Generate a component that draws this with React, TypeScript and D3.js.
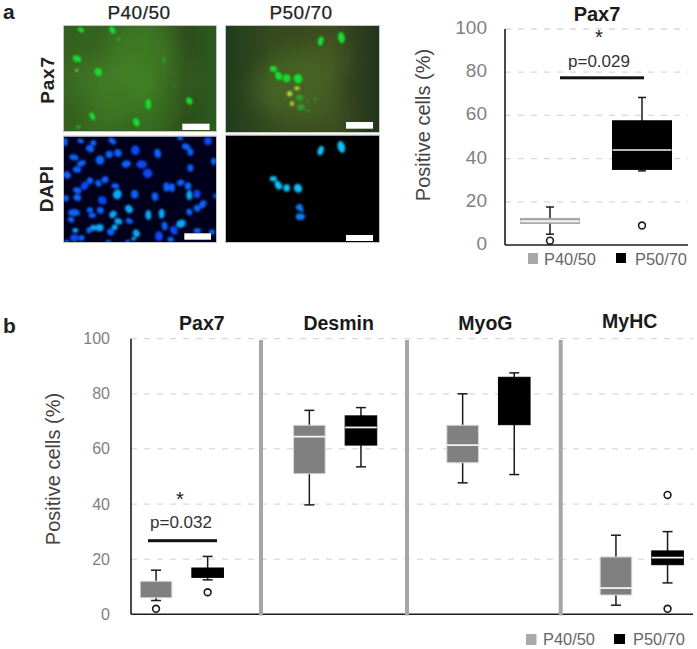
import React from "react";
import * as d3 from "d3";

const W = 697, H = 649;
const FONT = "'Liberation Sans', Arial, sans-serif";

// ---------- data ----------
type Box = { lo: number; q1: number; med: number | null; q3: number; hi: number; out: number[] };
const groupsA = ["P40/50", "P50/70"];
const boxesA: Box[] = [
  { lo: 5, q1: 10, med: 11, q3: 12.3, hi: 17.6, out: [2] },
  { lo: 34.3, q1: 35, med: 44, q3: 57.5, hi: 68.3, out: [9] },
];
const markersB = ["Pax7", "Desmin", "MyoG", "MyHC"];
const p4050B: Box[] = [
  { lo: 5, q1: 6, med: null, q3: 12, hi: 16, out: [2] },
  { lo: 39.7, q1: 51, med: 64.5, q3: 68.6, hi: 74, out: [] },
  { lo: 47.7, q1: 55, med: 61.4, q3: 68.6, hi: 80, out: [] },
  { lo: 3.3, q1: 7, med: 9.5, q3: 20.8, hi: 28.7, out: [] },
];
const p5070B: Box[] = [
  { lo: 12.5, q1: 13.4, med: null, q3: 16.8, hi: 21, out: [8] },
  { lo: 53.5, q1: 61.4, med: 67.8, q3: 72, hi: 75, out: [] },
  { lo: 50.7, q1: 68.8, med: null, q3: 86, hi: 87.6, out: [] },
  { lo: 11.4, q1: 18, med: 20.6, q3: 23, hi: 30, out: [43.3, 2] },
];
const ticks = [0, 20, 40, 60, 80, 100];

// micrograph nuclei: x, y, rx, ry, rotation, tone (read at 3x from the micrographs)
type N = [number, number, number, number, number, number?];
const dapiLeft: N[] = [
  [16,30,7,13,0],[62,27,10,7,20],[100,33,9,9,0],[90,50,13,10,30],[157,27,13,8,40],[42,76,14,9,10],[120,84,13,14,-30],
  [148,67,11,11,0],[174,63,11,12,-30],[64,94,14,9,-20],[51,113,13,9,10],[21,129,11,12,-40],[226,55,13,15,0,0],[293,64,10,14,-10],
  [199,96,14,11,-20],[245,97,16,12,0,0],[263,124,14,14,30,0],[361,18,9,7,0],[378,44,13,9,20],[391,60,9,11,0],[444,27,12,12,0,0],
  [461,88,8,11,0],[391,108,9,11,0],[90,146,10,9,40],[115,154,9,11,-20],[135,143,11,10,-30],[74,161,11,13,30,0],[52,175,13,9,20],
  [52,197,12,10,20],[18,199,8,10,0],[166,162,12,8,10],[172,187,13,15,20,1],[127,205,14,12,30,0],[224,187,11,13,0],[285,194,10,13,-10],
  [319,165,9,14,0],[336,167,9,13,0],[362,152,11,9,-30],[384,162,10,11,0],[388,190,9,15,0,1],[411,186,10,13,0,0],[428,217,10,13,30],
  [411,229,9,11,-30],[388,240,9,10,-30],[465,192,5,8,0],[207,231,11,13,-30,1],[265,249,9,15,0,1],[305,245,9,15,0,1],[42,242,18,11,0],
  [90,234,10,8,0],[97,250,11,8,0],[121,235,11,10,30],[159,247,10,12,40,1],[33,263,10,8,30],[175,268,12,9,20,1],[208,267,11,8,20],
  [46,295,9,7,0,1],[87,295,8,10,0],[100,287,9,9,0,1],[119,287,12,11,0,1],[152,300,10,11,-40],[164,286,9,9,0,1],[43,318,13,11,0,0],
  [65,318,9,9,0],[229,304,10,12,-30,1],[297,313,12,15,0,0],[314,282,9,13,-10],[342,295,11,14,-30,0],[363,275,15,12,-20,1],[332,322,10,8,0],
  [412,296,11,8,0],[456,300,9,8,0],[20,328,8,5,0],[145,328,8,5,0],[203,328,8,5,0],[221,320,7,6,0,1],
];
const dapiRight: N[] = [
  [296,56,9,15,20,1],[358,45,11,18,-15,1],[154,140,11,8,0,1],[169,160,10,14,-30,1],[194,168,10,11,0,1],[228,169,12,14,-30,1],
  [232,226,10,10,0],[240,235,5,6,0],[235,254,14,10,0],
];
const pax7Left: N[] = [
  [63,24,9,7,30],[157,24,8,12,-30],[51,110,13,9,20],[115,150,11,12,-20],[265,247,8,15,-5],[388,237,9,11,-30],[97,283,7,13,-25],[229,301,9,13,-20],
  [50,145,4,4,0,1],[175,52,6,6,0,2],[312,115,4,10,-10,2],[345,193,3,3,0,2],[55,315,8,5,0,2],
];
const pax7Right: N[] = [
  [296,57,8,14,15],[358,47,10,17,-10],[154,141,11,9,10],[170,162,10,13,-30],[194,169,11,12,0],[228,170,13,14,-30],
  [225,199,8,6,0,1],[203,215,8,8,0,1],[233,227,11,9,0,2],[210,245,6,7,0,1],[237,256,11,9,0,2],[279,231,5,4,0,2],[257,265,4,4,0,2],[258,238,4,3,0,2],
];
// soft background patches: x, y, radius, opacity
const hazeLeft: [number, number, number, number][] = [
  [250,100,110,.35],[190,200,90,.3],[80,170,70,.25],[300,250,70,.2],[130,280,60,.2],[380,170,50,.15],
];
const hazeRight: [number, number, number, number][] = [
  [220,190,110,.35],[320,110,70,.18],[120,210,60,.12],[330,270,60,.12],
];

// ---------- scales ----------
const yA = d3.scaleLinear().domain([0, 100]).range([245, 29]);
const xA = d3.scaleBand().domain(groupsA).range([504, 688]);
const yB = d3.scaleLinear().domain([0, 100]).range([614.3, 338.7]);
const xB = d3.scaleBand().domain(markersB).range([105.2, 718.4]);
const dodge = 25.8;
const separatorsB = [261, 407, 560.7];

const BoxMark = ({ b, cx, hw, y, fill, edge, capW, medW }: { b: Box; cx: number; hw: number; y: d3.ScaleLinear<number, number>; fill: string; edge: string; capW: number; medW: number }) => (
  <g>
    <line x1={cx} x2={cx} y1={y(b.hi)} y2={y(b.lo)} stroke="#1a1a1a" strokeWidth={1.5} />
    <line x1={cx - capW} x2={cx + capW} y1={y(b.hi)} y2={y(b.hi)} stroke="#1a1a1a" strokeWidth={1.5} />
    <line x1={cx - capW} x2={cx + capW} y1={y(b.lo)} y2={y(b.lo)} stroke="#1a1a1a" strokeWidth={1.5} />
    <rect x={cx - hw} width={2 * hw} y={y(b.q3)} height={y(b.q1) - y(b.q3)} fill={fill} stroke={edge} strokeWidth={1} />
    {b.med !== null && <line x1={cx - hw} x2={cx + hw} y1={y(b.med)} y2={y(b.med)} stroke="#f4f4f4" strokeWidth={medW} />}
    {b.out.map((o, i) => <circle key={i} cx={cx} cy={y(o)} r={3.4} fill="#fff" stroke="#1a1a1a" strokeWidth={1.6} />)}
  </g>
);

const Nuclei = ({ data, ox, oy, fills }: { data: N[]; ox: number; oy: number; fills: string[] }) => {
  const sx = d3.scaleLinear().domain([0, 3]).range([ox, ox + 1]);
  const sy = d3.scaleLinear().domain([0, 3]).range([oy, oy + 1]);
  return (
    <g>
      {data.map(([x, y, rx, ry, rot, tone], i) => (
        <ellipse key={i} cx={sx(x)} cy={sy(y)} rx={rx / 3} ry={ry / 3} fill={fills[tone ?? (fills.length > 3 ? 3 : 0)]}
          transform={`rotate(${rot} ${sx(x)} ${sy(y)})`} />
      ))}
    </g>
  );
};

const Micro = ({ id, x, y, w, h, bg, bar, children }: { id: string; x: number; y: number; w: number; h: number; bg: string; bar: [number, number, number, number]; children: React.ReactNode }) => (
  <g>
    <clipPath id={id}><rect x={x} y={y} width={w} height={h} /></clipPath>
    <rect x={x} y={y} width={w} height={h} fill={bg} />
    <g clipPath={`url(#${id})`}>{children}</g>
    <rect x={x - .5} y={y - .5} width={w + 1} height={h + 1} fill="none" stroke="#c4c4c4" strokeWidth={1} />
    <rect x={bar[0]} y={bar[1]} width={bar[2]} height={bar[3]} fill="#fff" />
  </g>
);

export default function App() {
  const axisColor = "#1c1c1c";
  const grid = "#d9d9d9";
  const dapiFills = ["#0b46f5", "#08a6f8", "#08a6f8", "#0a62fa"];
  const dapiFillsR = ["#0a78f5", "#0cc0fb", "#0cc0fb"];
  const greenFills = ["#14e02e", "#b8d83a", "#2fa02e"];
  return (
    <svg width={W} height={H} style={{ position: "absolute", left: 0, top: 0, background: "#fff" }} fontFamily={FONT}>
      <defs>
        <filter id="blur1" x="-30%" y="-30%" width="160%" height="160%"><feGaussianBlur stdDeviation="0.9" /></filter>
        <filter id="blur10" x="-60%" y="-60%" width="220%" height="220%"><feGaussianBlur stdDeviation="10" /></filter>
        <linearGradient id="bgL" x1="0" x2="1" y1="0" y2="0">
          <stop offset="0" stopColor="#35601f" /><stop offset=".55" stopColor="#34671f" /><stop offset=".8" stopColor="#2d4c1c" /><stop offset="1" stopColor="#2b5a1f" />
        </linearGradient>
        <linearGradient id="bgR" x1="0" x2="1" y1="0" y2="0">
          <stop offset="0" stopColor="#1f3d1c" /><stop offset=".3" stopColor="#364a1f" /><stop offset=".7" stopColor="#3c4a20" /><stop offset="1" stopColor="#20351c" />
        </linearGradient>
      </defs>

      {/* panel labels */}
      <text x={3} y={19} fontSize={21} fontWeight={700} fill="#222">a</text>
      <text x={3} y={333} fontSize={21} fontWeight={700} fill="#222">b</text>
      <text x={139} y={19} textAnchor="middle" fontSize={19} fill="#222" stroke="#222" strokeWidth={.25} letterSpacing={.5}>P40/50</text>
      <text x={301} y={19} textAnchor="middle" fontSize={19} fill="#222" stroke="#222" strokeWidth={.25} letterSpacing={.5}>P50/70</text>
      <text transform="translate(54,80) rotate(-90)" textAnchor="middle" fontSize={19} fontWeight={700} fill="#222" letterSpacing={.8}>Pax7</text>
      <text transform="translate(53,189) rotate(-90)" textAnchor="middle" fontSize={19} fontWeight={700} fill="#222" letterSpacing={.3}>DAPI</text>

      {/* micrographs */}
      <Micro id="m1" x={64} y={26} w={152} h={105} bg="url(#bgL)" bar={[182.3, 123.7, 27.3, 6.3]}>
        <g filter="url(#blur10)">{hazeLeft.map(([x, y, r, o], i) => <circle key={i} cx={60 + x / 3} cy={22 + y / 3} r={r / 3} fill="#4f9a2c" opacity={o} />)}</g>
        <g filter="url(#blur1)"><Nuclei data={pax7Left} ox={60} oy={22} fills={greenFills} /></g>
      </Micro>
      <Micro id="m2" x={226} y={26} w={153} h={106} bg="url(#bgR)" bar={[346, 122, 27, 6.7]}>
        <g filter="url(#blur10)">{hazeRight.map(([x, y, r, o], i) => <circle key={i} cx={222 + x / 3} cy={22 + y / 3} r={r / 3} fill="#5a8a2c" opacity={o} />)}</g>
        <g filter="url(#blur1)"><Nuclei data={pax7Right} ox={222} oy={22} fills={greenFills} /></g>
      </Micro>
      <Micro id="m3" x={64} y={136.5} w={152} h={105.5} bg="#00001c" bar={[184.3, 233.3, 26.7, 6.4]}>
        <g filter="url(#blur1)"><Nuclei data={dapiLeft} ox={60} oy={132} fills={dapiFills} /></g>
      </Micro>
      <Micro id="m4" x={226} y={135.5} w={153} h={106.5} bg="#000" bar={[346, 235, 27, 6]}>
        <g filter="url(#blur1)"><Nuclei data={dapiRight} ox={222} oy={132} fills={dapiFillsR} /></g>
      </Micro>

      {/* chart a */}
      <text x={597} y={21} textAnchor="middle" fontSize={20} fontWeight={700} fill="#1a1a1a">Pax7</text>
      {ticks.filter(t => t > 0).map(t => (
        <line key={t} x1={505} x2={688} y1={yA(t)} y2={yA(t)} stroke={grid} strokeWidth={1.3} strokeDasharray="6 7" />
      ))}
      {ticks.map(t => (
        <text key={t} x={487} y={yA(t) + 5} textAnchor="end" fontSize={19} fill="#7f7f7f">{t}</text>
      ))}
      <text transform="translate(430,125) rotate(-90)" textAnchor="middle" fontSize={20} fill="#444">Positive cells (%)</text>
      <line x1={505} x2={505} y1={yA(100)} y2={yA(0)} stroke={axisColor} strokeWidth={1.6} />
      <line x1={505} x2={688} y1={yA(0)} y2={yA(0)} stroke={axisColor} strokeWidth={1.6} />
      {groupsA.map((g, i) => (
        <BoxMark key={g} b={boxesA[i]} cx={xA(g)! + xA.bandwidth() / 2} hw={29.5} y={yA}
          fill={i === 0 ? "#a6a6a6" : "#000"} edge={i === 0 ? "#a6a6a6" : "#000"} capW={4} medW={i === 0 ? 2.2 : 1.6} />
      ))}
      <rect x={560} y={76.3} width={84} height={3} fill="#111" />
      <text x={599} y={67} textAnchor="middle" fontSize={17} fill="#333">p=0.029</text>
      <text x={599} y={44} textAnchor="middle" fontSize={20} fill="#222">*</text>
      <rect x={528} y={253} width={10} height={11} fill="#a9a9a9" />
      <text x={544} y={265} fontSize={16.4} fill="#666">P40/50</text>
      <rect x={616} y={253} width={10} height={10} fill="#000" />
      <text x={635} y={265} fontSize={16.4} fill="#666">P50/70</text>

      {/* chart b */}
      {ticks.filter(t => t > 0).map(t => (
        <line key={t} x1={131} x2={693} y1={yB(t)} y2={yB(t)} stroke={grid} strokeWidth={1.3} strokeDasharray="6 7" />
      ))}
      {ticks.map(t => (
        <text key={t} x={110} y={yB(t) + 5.5} textAnchor="end" fontSize={16} fill="#7f7f7f">{t}</text>
      ))}
      <text transform="translate(60,469) rotate(-90)" textAnchor="middle" fontSize={20} fill="#444">Positive cells (%)</text>
      <line x1={131} x2={131} y1={yB(100)} y2={yB(0)} stroke={axisColor} strokeWidth={1.6} />
      <line x1={131} x2={693} y1={yB(0)} y2={yB(0)} stroke={axisColor} strokeWidth={1.6} />
      {separatorsB.map(s => <rect key={s} x={s - 2} width={4} y={340} height={275.5} fill="#a6a6a6" />)}
      {markersB.map((m, i) => {
        const c = xB(m)! + xB.bandwidth() / 2;
        return (
          <g key={m}>
            <text x={c + [20, 3.5, -3, -12][i]} y={i === 3 ? 328 : 330} textAnchor="middle" fontSize={19.5} fontWeight={700} fill="#1a1a1a">{m}</text>
            <BoxMark b={p4050B[i]} cx={c - dodge} hw={15.8} y={yB} fill="#808080" edge="#d8d8d8" capW={5} medW={1.8} />
            <BoxMark b={p5070B[i]} cx={c + dodge} hw={15.8} y={yB} fill="#000" edge="#000" capW={5} medW={1.8} />
          </g>
        );
      })}
      <rect x={148} y={539.2} width={69} height={3} fill="#111" />
      <text x={181} y={528} textAnchor="middle" fontSize={17} fill="#333">p=0.032</text>
      <text x={180} y={506} textAnchor="middle" fontSize={20} fill="#222">*</text>
      <rect x={526} y={634} width={10.5} height={11} fill="#a9a9a9" />
      <text x={543} y={645} fontSize={16.4} fill="#666">P40/50</text>
      <rect x={614} y={634} width={11} height={10} fill="#000" />
      <text x={633} y={645} fontSize={16.4} fill="#666">P50/70</text>
    </svg>
  );
}
